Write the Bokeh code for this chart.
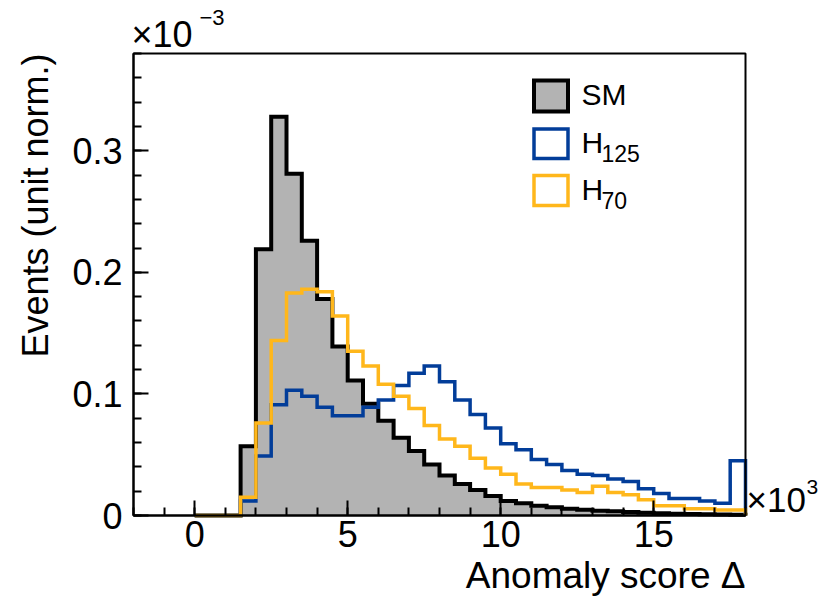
import numpy as np
from math import pi

from bokeh.plotting import figure
from bokeh.models import Range1d, FixedTicker, CustomJSTickFormatter, Label, BoxAnnotation
from bokeh.embed import file_html
from bokeh.resources import INLINE

# --- histogram content: 36 bins of width 0.5 (x10^3) from 0 to 18, values in units of 10^-3
bin_edges = np.linspace(0.0, 18.0, 37)
sm_counts = [0, 0, 0, 0.057, 0.219, 0.328, 0.281, 0.226, 0.178, 0.139, 0.111, 0.092,
             0.078, 0.064, 0.053, 0.042, 0.033, 0.026, 0.021, 0.016, 0.012, 0.010,
             0.008, 0.0068, 0.0055, 0.0047, 0.004, 0.0034, 0.0028, 0.0023, 0.0019,
             0.0015, 0.0012, 0.001, 0.0008, 0.0006]
h125_counts = [0, 0, 0, 0.012, 0.049, 0.091, 0.103, 0.098, 0.089, 0.082, 0.082, 0.089,
               0.095, 0.107, 0.117, 0.123, 0.110, 0.095, 0.083, 0.072, 0.059, 0.054,
               0.046, 0.042, 0.037, 0.034, 0.033, 0.030, 0.028, 0.022, 0.018, 0.014,
               0.014, 0.012, 0.010, 0.045]
h70_counts = [0, 0, 0, 0.015, 0.076, 0.144, 0.183, 0.186, 0.184, 0.164, 0.135, 0.123,
              0.108, 0.098, 0.088, 0.074, 0.063, 0.057, 0.047, 0.039, 0.034, 0.026,
              0.023, 0.023, 0.021, 0.019, 0.024, 0.019, 0.017, 0.013, 0.008, 0.008,
              0.0055, 0.0055, 0.0045, 0.0045]

x_major = [0, 5, 10, 15]
y_major = [0, 0.1, 0.2, 0.3]

FONT = "Liberation Sans"
GRAY = "#b3b3b3"
BLUE = "#023d99"
ORANGE = "#ffb71b"

# canvas size and the pixel box of the histogram frame
W, H = 818, 597
FL, FR, FT, FB = 133, 745, 53, 515
XMIN, XMAX, YMIN, YMAX = -2.0, 18.0, 0.0, 0.38
KX = (XMAX - XMIN) / (FR - FL)
KY = (YMAX - YMIN) / (FB - FT)


def px_x(px):
    return XMIN + (px - FL) * KX


def px_y(py):
    return YMIN + (FB - py) * KY


# the plot area spans the whole canvas; the axes sit at fixed positions inside it,
# so that the exponents and titles around the frame stay visible
p = figure(width=W, height=H, output_backend="svg", toolbar_location=None,
           x_range=Range1d(px_x(0), px_x(W)), y_range=Range1d(px_y(H), px_y(0)),
           min_border=0)
p.title = None
p.background_fill_color = "white"
p.border_fill_color = "white"
p.outline_line_color = None
p.grid.visible = False


def outline(counts):
    xs = np.repeat(bin_edges, 2)
    ys = np.concatenate([[0.0], np.repeat(np.asarray(counts, float), 2), [0.0]])
    return xs, ys


# SM: filled histogram with black outline
sx, sy = outline(sm_counts)
p.patch(sx, sy, fill_color=GRAY, line_color=None)
p.line(sx, sy, line_color="black", line_width=4, line_join="miter")

# signal hypotheses: hollow outlines
bx, by = outline(h125_counts)
p.line(bx, by, line_color=BLUE, line_width=3.5, line_join="miter")
ox, oy = outline(h70_counts)
p.line(ox, oy, line_color=ORANGE, line_width=3.5, line_join="miter")

# frame around the histograms
p.add_layout(BoxAnnotation(left=XMIN, right=XMAX, bottom=YMIN, top=YMAX,
                           fill_alpha=0, line_color="black", line_width=2, line_alpha=1))

# axes, ticks pointing into the frame
xax, yax = p.xaxis[0], p.yaxis[0]
xax.fixed_location = YMIN
xax.bounds = (XMIN, XMAX)
yax.fixed_location = XMIN
yax.bounds = (YMIN, YMAX)
for ax in (xax, yax):
    ax.axis_line_width = 2
    ax.axis_line_color = "black"
    ax.major_tick_in = 15
    ax.major_tick_out = 0
    ax.minor_tick_in = 8
    ax.minor_tick_out = 0
    ax.major_tick_line_width = 2
    ax.minor_tick_line_width = 2
    ax.major_tick_line_color = "black"
    ax.minor_tick_line_color = "black"
    ax.major_label_text_font = FONT
    ax.major_label_text_font_size = "36px"
    ax.major_label_text_color = "black"

xax.ticker = FixedTicker(ticks=x_major, minor_ticks=list(range(-2, 19)))
xax.major_label_standoff = 5
yax.ticker = FixedTicker(ticks=y_major,
                         minor_ticks=[round(0.02 * i, 2) for i in range(0, 20)])
yax.formatter = CustomJSTickFormatter(
    code="return Math.abs(tick) < 1e-9 ? '0' : tick.toFixed(1);")
yax.major_label_standoff = 11

# Label places its text box a little below the requested baseline; compensate
BASE_SHIFT = 0.36


def text(x, y, s, size, align="left", angle=0.0):
    shift = BASE_SHIFT * size
    if angle:
        x -= shift
    else:
        y -= shift
    p.add_layout(Label(x=px_x(x), y=px_y(y), text=s, text_font=FONT,
                       text_font_size=f"{size}px", text_color="black",
                       text_align=align, text_baseline="alphabetic", angle=angle))


# axis titles
text(745, 588, "Anomaly score Δ", 37, align="right")
text(48, 53, "Events (unit norm.)", 36, align="right", angle=pi / 2)

# axis exponents
text(131, 47, "×10", 36)
text(199, 25, "\u22123", 22)
text(746, 512, "×10", 35)
text(806, 494, "3", 21)

# legend
p.quad(left=px_x(533.5), right=px_x(567.5), bottom=px_y(111), top=px_y(80),
       fill_color=GRAY, line_color="black", line_width=4, line_join="miter")
p.quad(left=px_x(533.5), right=px_x(567.5), bottom=px_y(158), top=px_y(128.5),
       fill_color="white", line_color=BLUE, line_width=3.5, line_join="miter")
p.quad(left=px_x(533.5), right=px_x(567.5), bottom=px_y(205), top=px_y(175),
       fill_color="white", line_color=ORANGE, line_width=3.5, line_join="miter")
text(581, 105, "SM", 30)
text(581, 153, "H", 30)
text(601, 161, "125", 23)
text(581, 200, "H", 30)
text(601, 208, "70", 23)

open("out.html", "w").write(file_html(p, INLINE))
